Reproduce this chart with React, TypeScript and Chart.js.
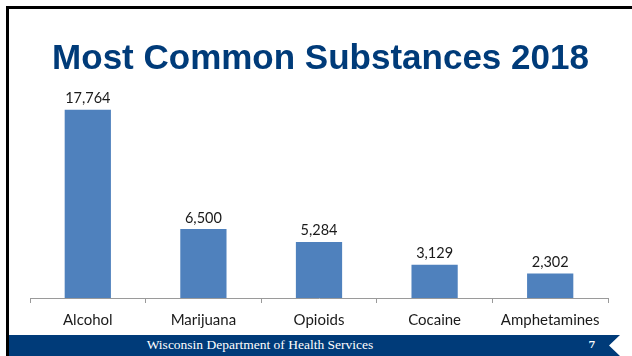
import React, { useEffect, useRef } from "react";
import { Chart, registerables } from "chart.js";

Chart.register(...registerables);

const title = "Most Common Substances 2018";
const footerText = "Wisconsin Department of Health Services";
const pageNumber = "7";
const categories = ["Alcohol", "Marijuana", "Opioids", "Cocaine", "Amphetamines"];
const counts = [17764, 6500, 5284, 3129, 2302];
const yMax = 20000;

const labelFont = "Lato, 'Open Sans', sans-serif";

const dataLabelPlugin = {
  id: "dataLabels",
  afterDatasetsDraw(chart: any) {
    const ctx = chart.ctx;
    const meta = chart.getDatasetMeta(0);
    ctx.save();
    ctx.fillStyle = "#1a1a1a";
    ctx.font = `14.5px ${labelFont}`;
    ctx.textAlign = "center";
    ctx.textBaseline = "bottom";
    meta.data.forEach((bar: any, i: number) => {
      const v = chart.data.datasets[0].data[i] as number;
      ctx.fillText(v.toLocaleString("en-US"), bar.x, bar.y - 4);
    });
    ctx.restore();
  },
};

export default function App() {
  const ref = useRef<HTMLCanvasElement | null>(null);

  useEffect(() => {
    if (!ref.current) return;
    const chart = new Chart(ref.current, {
      type: "bar",
      data: {
        labels: categories,
        datasets: [
          {
            data: counts,
            backgroundColor: "#4F81BD",
            borderWidth: 0,
            barPercentage: 0.4,
            categoryPercentage: 1,
          },
        ],
      },
      plugins: [dataLabelPlugin],
      options: {
        animation: false,
        responsive: false,
        devicePixelRatio: 1,
        layout: { padding: { left: 30, right: 24, top: 86, bottom: 19 } },
        plugins: {
          legend: { display: false },
          tooltip: { enabled: false },
          title: { display: false },
        },
        scales: {
          x: {
            offset: true,
            border: { display: true, color: "#9a9a9a", width: 1 },
            grid: {
              display: true,
              drawOnChartArea: false,
              drawTicks: true,
              tickLength: 5,
              color: "#9a9a9a",
              offset: true,
            },
            ticks: {
              color: "#1a1a1a",
              padding: 8,
              font: { family: labelFont, size: 15 },
              maxRotation: 0,
              autoSkip: false,
            },
          },
          y: {
            display: false,
            min: 0,
            max: yMax,
          },
        },
      },
    });
    return () => chart.destroy();
  }, []);

  return (
    <div
      style={{
        position: "fixed",
        left: 0,
        top: 0,
        width: 632,
        height: 356,
        background: "#fff",
        overflow: "hidden",
      }}
    >
      <canvas
        ref={ref}
        width={632}
        height={356}
        style={{ position: "absolute", left: 0, top: 0, width: 632, height: 356 }}
      />
      <div
        style={{
          position: "absolute",
          left: 9,
          right: 0,
          top: 39,
          textAlign: "center",
          fontFamily: "'Liberation Sans', Arial, sans-serif",
          fontWeight: "bold",
          fontSize: 35,
          lineHeight: "35px",
          color: "#003B79",
          whiteSpace: "nowrap",
        }}
      >
        {title}
      </div>
      <div
        style={{
          position: "absolute",
          left: 8,
          top: 335,
          width: 612,
          height: 21,
          background: "#003B79",
          clipPath: "polygon(0 0, 612px 0, 601px 50%, 612px 100%, 0 100%)",
        }}
      >
        <div
          style={{
            position: "absolute",
            left: 0,
            width: 504,
            top: 3,
            textAlign: "center",
            fontFamily: "'Liberation Serif', 'Times New Roman', serif",
            fontSize: 13.5,
            lineHeight: "14px",
            color: "#fff",
          }}
        >
          {footerText}
        </div>
        <div
          style={{
            position: "absolute",
            left: 578,
            width: 12,
            top: 4,
            textAlign: "center",
            fontFamily: "'DejaVu Serif', serif",
            fontWeight: "bold",
            fontSize: 10,
            lineHeight: "12px",
            color: "#fff",
          }}
        >
          {pageNumber}
        </div>
      </div>
      <div style={{ position: "absolute", left: 6, top: 6, right: 0, height: 3, background: "#000" }} />
      <div style={{ position: "absolute", left: 6, top: 6, width: 3, bottom: 0, background: "#000" }} />
    </div>
  );
}
